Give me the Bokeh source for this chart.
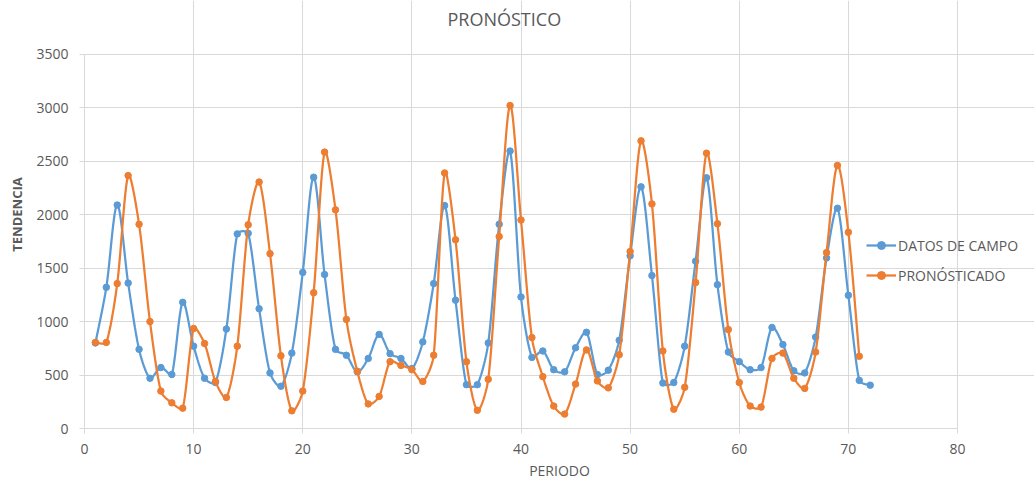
import numpy as np
from bokeh.plotting import figure
from bokeh.models import Range1d, FixedTicker, Legend, LegendItem, Label
from bokeh.embed import file_html
from bokeh.resources import INLINE

titulo = "PRONÓSTICO"
periodo = list(range(1, 73))
datos_campo = [
    800, 1320, 2090, 1360, 740, 470, 570, 505, 1180, 770,
    470, 430, 930, 1820, 1825, 1120, 520, 395, 705, 1460,
    2350, 1440, 740, 685, 530, 655, 880, 700, 655, 560,
    810, 1355, 2085, 1200, 410, 410, 800, 1910, 2595, 1230,
    665, 725, 550, 530, 755, 900, 505, 545, 825, 1615,
    2260, 1430, 425, 430, 770, 1565, 2345, 1345, 715, 625,
    550, 570, 945, 785, 540, 520, 855, 1595, 2060, 1245,
    450, 405,
]
pronosticado = [
    805, 805, 1355, 2365, 1910, 1000, 350, 240, 190, 935,
    795, 440, 290, 770, 1905, 2305, 1635, 680, 165, 350,
    1270, 2585, 2045, 1020, 535, 230, 300, 625, 590, 550,
    440, 685, 2390, 1765, 625, 170, 460, 1795, 3020, 1950,
    850, 485, 210, 135, 415, 735, 445, 380, 690, 1655,
    2690, 2100, 725, 180, 385, 1365, 2575, 1915, 925, 430,
    210, 200, 655, 705, 470, 375, 715, 1645, 2460, 1835,
    675,
]
periodo_pron = periodo[:len(pronosticado)]

BLUE = "#5B9BD5"
ORANGE = "#ED7D31"
TXT = "#595959"
GRID = "#D9D9D9"
FONT = "Open Sans"

# layout (pixels)
W, H = 1034, 482
LEFT, TOP, BOTTOM = 84, 54, 52
FRAME_W = W - LEFT
FRAME_H = H - BOTTOM
X_MAX, Y_MAX = 80, 3500
PX_X = 873.0 / X_MAX                    # pixels per period
PX_Y = (FRAME_H - TOP) / float(Y_MAX)   # pixels per unit
X_END = FRAME_W / PX_X
Y_END = FRAME_H / PX_Y


def smooth(xs, ys, n=16):
    # Excel-like smoothed line rendering: Bezier segments whose tangents are
    # scaled by neighbouring segment lengths (in screen space) to limit overshoot
    xs = np.asarray(xs, float)
    ys = np.asarray(ys, float)
    S = np.column_stack([xs * PX_X, ys * PX_Y])
    N = len(S)
    d = np.r_[np.hypot(*(S[1:] - S[:-1]).T)]
    out = [S[0]]
    for i in range(N - 1):
        p1, p2 = S[i], S[i + 1]
        p0 = S[i - 1] if i > 0 else p1
        p3 = S[i + 2] if i + 2 < N else p2
        d01 = d[i - 1] if i > 0 else d[i]
        d12 = d[i]
        d23 = d[i + 1] if i + 1 < N - 1 else d[i]
        f1 = min(1.0, 2 * d12 / (d01 + d12))
        f2 = min(1.0, 2 * d12 / (d12 + d23))
        b1 = p1 + f1 * (p2 - p0) / 6.0
        b2 = p2 - f2 * (p3 - p1) / 6.0
        t = np.linspace(0, 1, n + 1)[1:][:, None]
        seg = ((1 - t) ** 3) * p1 + 3 * ((1 - t) ** 2) * t * b1 + 3 * (1 - t) * t ** 2 * b2 + t ** 3 * p2
        out.extend(seg)
    out = np.array(out)
    return out[:, 0] / PX_X, out[:, 1] / PX_Y


p = figure(width=W, height=H, output_backend="svg", toolbar_location=None,
           x_range=Range1d(0, X_END), y_range=Range1d(0, Y_END),
           min_border_left=LEFT, min_border_right=0, min_border_top=0, min_border_bottom=BOTTOM)

p.outline_line_color = None
p.background_fill_color = "white"
p.border_fill_color = "white"

p.xaxis.ticker = FixedTicker(ticks=list(range(0, X_MAX + 1, 10)))
p.yaxis.ticker = FixedTicker(ticks=list(range(0, Y_MAX + 1, 500)))
p.xaxis.bounds = (0, X_MAX)
p.yaxis.bounds = (0, Y_MAX)
p.xgrid.grid_line_color = GRID
p.ygrid.grid_line_color = GRID
p.ygrid.bounds = (0, X_MAX)
p.xgrid.bounds = (0, Y_MAX)

for ax in (p.xaxis, p.yaxis):
    ax.axis_line_color = GRID
    ax.major_tick_line_color = GRID
    ax.major_tick_in = 0
    ax.major_tick_out = 5
    ax.minor_tick_line_color = None
    ax.major_label_text_font = FONT
    ax.major_label_text_font_size = "14px"
    ax.major_label_text_color = TXT
    ax.axis_label_text_font = FONT
    ax.axis_label_text_color = TXT

p.xaxis.axis_label = "PERIODO"
p.xaxis.axis_label_text_font_style = "normal"
p.xaxis.axis_label_text_font_size = "14px"
p.xaxis.major_label_standoff = 10
p.xaxis.axis_label_standoff = 4

p.yaxis.axis_label = "TENDENCIA"
p.yaxis.axis_label_text_font_style = "bold"
p.yaxis.axis_label_text_font_size = "13px"
p.yaxis.major_label_standoff = 11
p.yaxis.axis_label_standoff = 7

p.add_layout(Label(x=363, y=FRAME_H - 20, x_units="screen", y_units="screen",
                   text=titulo, text_font=FONT, text_font_size="18px",
                   text_color=TXT, text_baseline="middle", text_align="left"))

bx, by = smooth(periodo, datos_campo)
ox, oy = smooth(periodo_pron, pronosticado)

l1 = p.line(bx, by, line_color=BLUE, line_width=2.25)
s1 = p.scatter(periodo, datos_campo, marker="circle", size=6.5, fill_color=BLUE, line_color=BLUE)
l2 = p.line(ox, oy, line_color=ORANGE, line_width=2.25)
s2 = p.scatter(periodo_pron, pronosticado, marker="circle", size=6.5, fill_color=ORANGE, line_color=ORANGE)

legend = Legend(items=[LegendItem(label="DATOS DE CAMPO", renderers=[l1, s1]),
                       LegendItem(label="PRONÓSTICADO", renderers=[l2, s2])],
                location=(782, 143), orientation="vertical")
legend.padding = 0
legend.margin = 0
legend.spacing = 10
legend.border_line_color = None
legend.background_fill_alpha = 0
legend.glyph_width = 30
legend.glyph_height = 20
legend.label_height = 20
legend.label_standoff = 2
legend.label_text_font = FONT
legend.label_text_font_size = "14px"
legend.label_text_color = TXT
p.add_layout(legend, "center")

open("out.html", "w").write(file_html(p, INLINE))
